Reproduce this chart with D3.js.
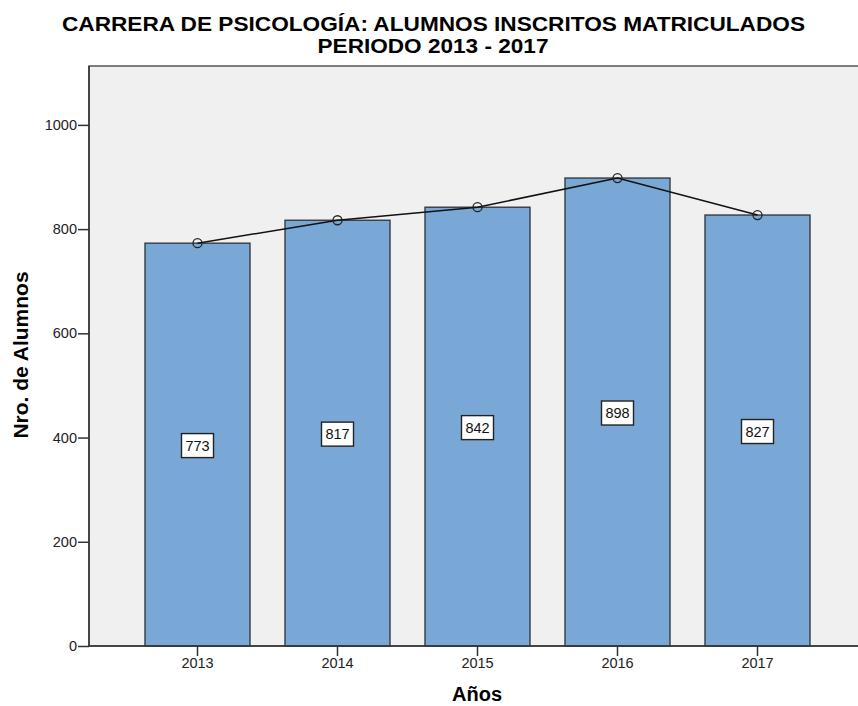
<!DOCTYPE html>
<html>
<head>
<meta charset="utf-8">
<script src="https://d3js.org/d3.v7.min.js"></script>
<style>
  body { margin: 0; background: #fff; }
  text { font-family: "Liberation Sans", Arial, sans-serif; }
</style>
</head>
<body>
<div id="chart"></div>
<script>
var years = ["2013", "2014", "2015", "2016", "2017"];
var alumnos = [773, 817, 842, 898, 827];
var yTicks = [0, 200, 400, 600, 800, 1000];

var width = 858, height = 706;
var plot = {left: 89, top: 66, right: 866, bottom: 646};

var svg = d3.select("#chart").append("svg")
    .attr("width", width)
    .attr("height", height);

var x = d3.scaleBand()
    .domain(years)
    .range([plot.left, plot.right])
    .paddingInner(0.25)
    .paddingOuter(0.4);

var y = d3.scaleLinear()
    .domain([0, 1113])
    .range([plot.bottom, plot.top]);

var data = years.map(function(d, i) { return {year: d, value: alumnos[i]}; });

// plot background
svg.append("rect")
    .attr("x", plot.left)
    .attr("y", plot.top)
    .attr("width", plot.right - plot.left)
    .attr("height", plot.bottom - plot.top)
    .attr("fill", "#f0f0f0")
    .attr("stroke", "#555")
    .attr("stroke-width", 1.5);

// bars
svg.selectAll(".bar")
    .data(data)
    .enter().append("rect")
    .attr("class", "bar")
    .attr("x", function(d) { return x(d.year); })
    .attr("y", function(d) { return y(d.value); })
    .attr("width", x.bandwidth())
    .attr("height", function(d) { return y(0) - y(d.value); })
    .attr("fill", "#7aa8d6")
    .attr("stroke", "#363b42")
    .attr("stroke-width", 1.4);

// axes
var yAxis = svg.append("g")
    .attr("transform", "translate(" + plot.left + ",0)")
    .call(d3.axisLeft(y).tickValues(yTicks).tickSize(11).tickPadding(1).tickFormat(d3.format("d")));
yAxis.select(".domain").remove();
yAxis.selectAll("line").attr("stroke", "#333").attr("stroke-width", 1.5);
yAxis.selectAll("text").attr("font-size", 14.5).attr("fill", "#222")
    .style("font-family", "'Liberation Sans', Arial, sans-serif");

var xAxis = svg.append("g")
    .attr("transform", "translate(0," + plot.bottom + ")")
    .call(d3.axisBottom(x).tickSize(10).tickPadding(2));
xAxis.select(".domain").remove();
xAxis.selectAll("line").attr("stroke", "#333").attr("stroke-width", 1.5);
xAxis.selectAll("text").attr("font-size", 14.5).attr("fill", "#222")
    .style("font-family", "'Liberation Sans', Arial, sans-serif");

// axis lines
svg.append("line")
    .attr("x1", plot.left).attr("x2", plot.left)
    .attr("y1", plot.top).attr("y2", plot.bottom)
    .attr("stroke", "#333").attr("stroke-width", 1.5);
svg.append("line")
    .attr("x1", plot.left).attr("x2", width)
    .attr("y1", plot.bottom).attr("y2", plot.bottom)
    .attr("stroke", "#333").attr("stroke-width", 1.5);

// line over bars
var line = d3.line()
    .x(function(d) { return x(d.year) + x.bandwidth() / 2; })
    .y(function(d) { return y(d.value); });

svg.append("path")
    .datum(data)
    .attr("d", line)
    .attr("fill", "none")
    .attr("stroke", "#111")
    .attr("stroke-width", 1.5);

svg.selectAll(".pt")
    .data(data)
    .enter().append("circle")
    .attr("class", "pt")
    .attr("cx", function(d) { return x(d.year) + x.bandwidth() / 2; })
    .attr("cy", function(d) { return y(d.value); })
    .attr("r", 4.5)
    .attr("fill", "none")
    .attr("stroke", "#222")
    .attr("stroke-width", 1.3);

// value labels
var labels = svg.selectAll(".lbl")
    .data(data)
    .enter().append("g")
    .attr("class", "lbl")
    .attr("transform", function(d) {
        return "translate(" + (x(d.year) + x.bandwidth() / 2) + "," + ((y(d.value) + y(0)) / 2 + 1) + ")";
    });
labels.append("rect")
    .attr("x", -16).attr("y", -12)
    .attr("width", 32).attr("height", 24)
    .attr("fill", "#fff")
    .attr("stroke", "#222")
    .attr("stroke-width", 1.4);
labels.append("text")
    .attr("text-anchor", "middle")
    .attr("dy", "0.36em")
    .attr("font-size", 14.5)
    .attr("fill", "#111")
    .text(function(d) { return d.value; });

// titles
svg.append("text")
    .attr("x", 433.5).attr("y", 31)
    .attr("text-anchor", "middle")
    .attr("font-size", 20).attr("font-weight", "bold")
    .attr("textLength", 743).attr("lengthAdjust", "spacingAndGlyphs")
    .text("CARRERA DE PSICOLOGÍA: ALUMNOS INSCRITOS MATRICULADOS");
svg.append("text")
    .attr("x", 433).attr("y", 53)
    .attr("text-anchor", "middle")
    .attr("font-size", 20).attr("font-weight", "bold")
    .attr("textLength", 231).attr("lengthAdjust", "spacingAndGlyphs")
    .text("PERIODO 2013 - 2017");

svg.append("text")
    .attr("transform", "translate(28,355) rotate(-90)")
    .attr("text-anchor", "middle")
    .attr("font-size", 21).attr("font-weight", "bold")
    .text("Nro. de Alumnos");

svg.append("text")
    .attr("x", 477).attr("y", 701)
    .attr("text-anchor", "middle")
    .attr("font-size", 20).attr("font-weight", "bold")
    .text("Años");
</script>
</body>
</html>
